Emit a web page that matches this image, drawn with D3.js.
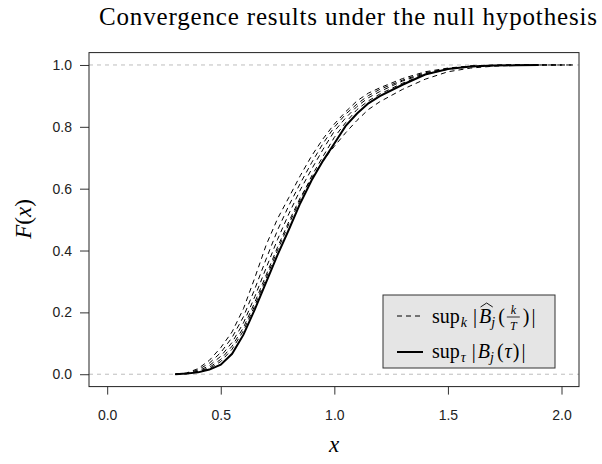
<!DOCTYPE html>
<html>
<head>
<meta charset="utf-8">
<script src="https://cdn.jsdelivr.net/npm/d3@7/dist/d3.min.js"></script>
<style>
	body { margin: 0; background: #fff; }
</style>
</head>
<body>
<script>
(function (d3) {
	'use strict';

	// x positions shared by all the empirical cdfs
	var xGrid = [0.30, 0.35, 0.40, 0.45, 0.50, 0.55, 0.60, 0.65, 0.70, 0.75,
	             0.80, 0.85, 0.90, 0.95, 1.00, 1.05, 1.10, 1.15, 1.20, 1.30,
	             1.40, 1.50, 1.60, 1.70, 1.80, 1.90, 2.00, 2.05];

	// sup_tau |B_j(tau)|  (solid)
	var limitCdf = [0, 0.002, 0.006, 0.015, 0.031, 0.066, 0.128, 0.210, 0.298, 0.386,
	                0.468, 0.553, 0.627, 0.690, 0.746, 0.803, 0.843, 0.876, 0.899, 0.936,
	                0.969, 0.987, 0.995, 0.998, 0.999, 1.0, null, null];

	// sup_k |B^_j(k/T)|  (dashed, one per T)
	var finiteA = [0, 0.004, 0.018, 0.045, 0.086, 0.137, 0.212, 0.312, 0.418, 0.503,
	               0.572, 0.642, 0.706, 0.761, 0.809, 0.849, 0.884, 0.909, 0.926, 0.956,
	               0.978, 0.990, 0.997, 0.999, 1.0, 1.0, 1.0, 1.0];
	var finiteB = [0, 0.003, 0.014, 0.036, 0.070, 0.119, 0.186, 0.276, 0.373, 0.466,
	               0.546, 0.617, 0.684, 0.746, 0.799, 0.841, 0.874, 0.901, 0.921, 0.951,
	               0.975, 0.988, 0.996, 0.999, 1.0, 1.0, 1.0, null];
	var finiteC = [0, 0.002, 0.010, 0.028, 0.058, 0.103, 0.166, 0.251, 0.344, 0.436,
	               0.519, 0.596, 0.663, 0.727, 0.786, 0.829, 0.866, 0.894, 0.914, 0.948,
	               0.972, 0.987, 0.995, 0.998, 1.0, 1.0, null, null];
	var finiteD = [0, 0.002, 0.008, 0.022, 0.048, 0.091, 0.151, 0.233, 0.321, 0.411,
	               0.494, 0.571, 0.634, 0.691, 0.737, 0.781, 0.821, 0.856, 0.881, 0.921,
	               0.954, 0.978, 0.990, 0.996, 0.999, 1.0, 1.0, 1.0];
	var finiteE = [0, 0.002, 0.007, 0.018, 0.041, 0.081, 0.141, 0.222, 0.311, 0.401,
	               0.486, 0.564, 0.641, 0.704, 0.766, 0.814, 0.856, 0.884, 0.906, 0.941,
	               0.970, 0.986, 0.994, 0.998, 1.0, 1.0, 1.0, null];

	var xTicks = [0, 0.5, 1, 1.5, 2];
	var yTicks = [0, 0.2, 0.4, 0.6, 0.8, 1];
	var refLines = [0, 1];

	var width = 602,
	    height = 464,
	    serif = '"Liberation Serif", "DejaVu Serif", serif',
	    sans = '"Liberation Sans", Arial, sans-serif';

	var svg = d3.select('body')
		.append('svg')
		.attr('width', width)
		.attr('height', height);

	var x = d3.scaleLinear().domain([-0.08, 2.077]).range([89, 579]);
	var y = d3.scaleLinear().domain([-0.04, 1.04]).range([386.6, 52.6]);

	// title
	svg.append('text')
		.attr('x', 348).attr('y', 25)
		.attr('text-anchor', 'middle')
		.attr('textLength', 498)
		.attr('lengthAdjust', 'spacing')
		.style('font-family', serif)
		.style('font-size', '25px')
		.text('Convergence results under the null hypothesis');

	// reference lines at 0 and 1
	svg.selectAll('line.ref')
		.data(refLines)
		.enter()
		.append('line')
		.attr('class', 'ref')
		.attr('x1', 89).attr('x2', 579)
		.attr('y1', function (d) { return y(d); })
		.attr('y2', function (d) { return y(d); })
		.attr('stroke', '#bdbdbd')
		.attr('stroke-dasharray', '4,4');

	// curves
	var line = d3.line()
		.defined(function (d) { return d[1] !== null; })
		.x(function (d) { return x(d[0]); })
		.y(function (d) { return y(d[1]); });

	function pts(vals) {
		return xGrid.map(function (xv, i) { return [xv, vals[i]]; });
	}

	var dashed = [finiteA, finiteB, finiteC, finiteD, finiteE];
	svg.selectAll('path.finite')
		.data(dashed)
		.enter()
		.append('path')
		.attr('class', 'finite')
		.attr('d', function (d) { return line(pts(d)); })
		.attr('fill', 'none')
		.attr('stroke', '#000')
		.attr('stroke-width', 1)
		.attr('stroke-dasharray', '5,4');

	svg.append('path')
		.attr('d', line(pts(limitCdf)))
		.attr('fill', 'none')
		.attr('stroke', '#000')
		.attr('stroke-width', 2);

	// axes
	var xAxis = svg.append('g')
		.attr('transform', 'translate(0,386.6)')
		.call(d3.axisBottom(x).tickValues(xTicks).tickSize(8).tickPadding(15)
			.tickFormat(d3.format('.1f')));
	var yAxis = svg.append('g')
		.attr('transform', 'translate(89,0)')
		.call(d3.axisLeft(y).tickValues(yTicks).tickSize(9).tickPadding(8)
			.tickFormat(d3.format('.1f')));

	[xAxis, yAxis].forEach(function (a) {
		a.select('.domain').remove();
		a.selectAll('line').attr('stroke', '#333');
		a.selectAll('text')
			.style('font-family', sans)
			.style('font-size', '14px')
			.attr('fill', '#222');
	});

	// box
	svg.append('rect')
		.attr('x', 89).attr('y', 52.6)
		.attr('width', 490).attr('height', 334)
		.attr('fill', 'none')
		.attr('stroke', '#222');

	// axis titles
	svg.append('text')
		.attr('x', 334).attr('y', 452)
		.attr('text-anchor', 'middle')
		.style('font-family', serif)
		.style('font-style', 'italic')
		.style('font-size', '23px')
		.text('x');

	var yl = svg.append('text')
		.attr('transform', 'translate(31,219) rotate(-90)')
		.attr('text-anchor', 'middle')
		.style('font-family', serif)
		.style('font-size', '23px');
	yl.append('tspan').style('font-style', 'italic').text('F');
	yl.append('tspan').text('(');
	yl.append('tspan').style('font-style', 'italic').text('x');
	yl.append('tspan').text(')');

	// legend
	var lg = svg.append('g');
	lg.append('rect')
		.attr('x', 383).attr('y', 295)
		.attr('width', 172).attr('height', 73)
		.attr('fill', '#e5e5e5')
		.attr('stroke', '#333');

	lg.append('line')
		.attr('x1', 397).attr('x2', 421).attr('y1', 316).attr('y2', 316)
		.attr('stroke', '#000').attr('stroke-dasharray', '5,4');
	lg.append('line')
		.attr('x1', 397).attr('x2', 423).attr('y1', 352).attr('y2', 352)
		.attr('stroke', '#000').attr('stroke-width', 2);

	// lay out a little formula piece by piece
	function mathRow(g, x0, base, items) {
		var cx = x0;
		items.forEach(function (it) {
			if (it.gap) { cx += it.gap; return; }
			if (it.frac) {
				g.append('text').attr('text-anchor', 'middle')
					.attr('x', cx + 6.5).attr('y', base - 9)
					.style('font-family', serif).style('font-style', 'italic')
					.style('font-size', '12px').text(it.frac[0]);
				g.append('text').attr('text-anchor', 'middle')
					.attr('x', cx + 6.5).attr('y', base + 7)
					.style('font-family', serif).style('font-style', 'italic')
					.style('font-size', '12px').text(it.frac[1]);
				g.append('line')
					.attr('x1', cx).attr('x2', cx + 13)
					.attr('y1', base - 6).attr('y2', base - 6)
					.attr('stroke', '#000').attr('stroke-width', 0.8);
				cx += 14;
				return;
			}
			var size = it.size || 20;
			var t = g.append('text')
				.attr('x', cx).attr('y', base + (it.dy || 0))
				.style('font-family', serif)
				.style('font-size', size + 'px')
				.style('font-style', it.i ? 'italic' : 'normal')
				.text(it.t);
			var w = t.node().getComputedTextLength();
			if (it.hat) {
				g.append('path')
					.attr('d', 'M' + (cx + 1.5) + ',' + (base - 16) + 'L' + (cx + w / 2 + 1.5) + ',' + (base - 20) +
						'L' + (cx + w + 1.5) + ',' + (base - 16))
					.attr('fill', 'none').attr('stroke', '#000').attr('stroke-width', 0.9);
			}
			cx += w;
		});
	}

	mathRow(lg, 432, 323, [
		{ t: 'sup' }, { gap: 1 }, { t: 'k', i: true, size: 14, dy: 4 }, { gap: 6 },
		{ t: '|' }, { gap: 2 }, { t: 'B', i: true, hat: true }, { t: 'j', i: true, size: 14, dy: 4 }, { gap: 3 },
		{ t: '(' }, { gap: 2 }, { frac: ['k', 'T'] }, { gap: 2 }, { t: ')' }, { gap: 2 }, { t: '|' }
	]);
	mathRow(lg, 432, 358, [
		{ t: 'sup' }, { gap: 1 }, { t: '\u03c4', i: true, size: 14, dy: 4 }, { gap: 6 },
		{ t: '|' }, { gap: 2 }, { t: 'B', i: true }, { t: 'j', i: true, size: 14, dy: 4 }, { gap: 3 },
		{ t: '(' }, { gap: 1 }, { t: '\u03c4', i: true }, { gap: 1 }, { t: ')' }, { gap: 2 }, { t: '|' }
	]);

})(d3);
</script>
</body>
</html>
